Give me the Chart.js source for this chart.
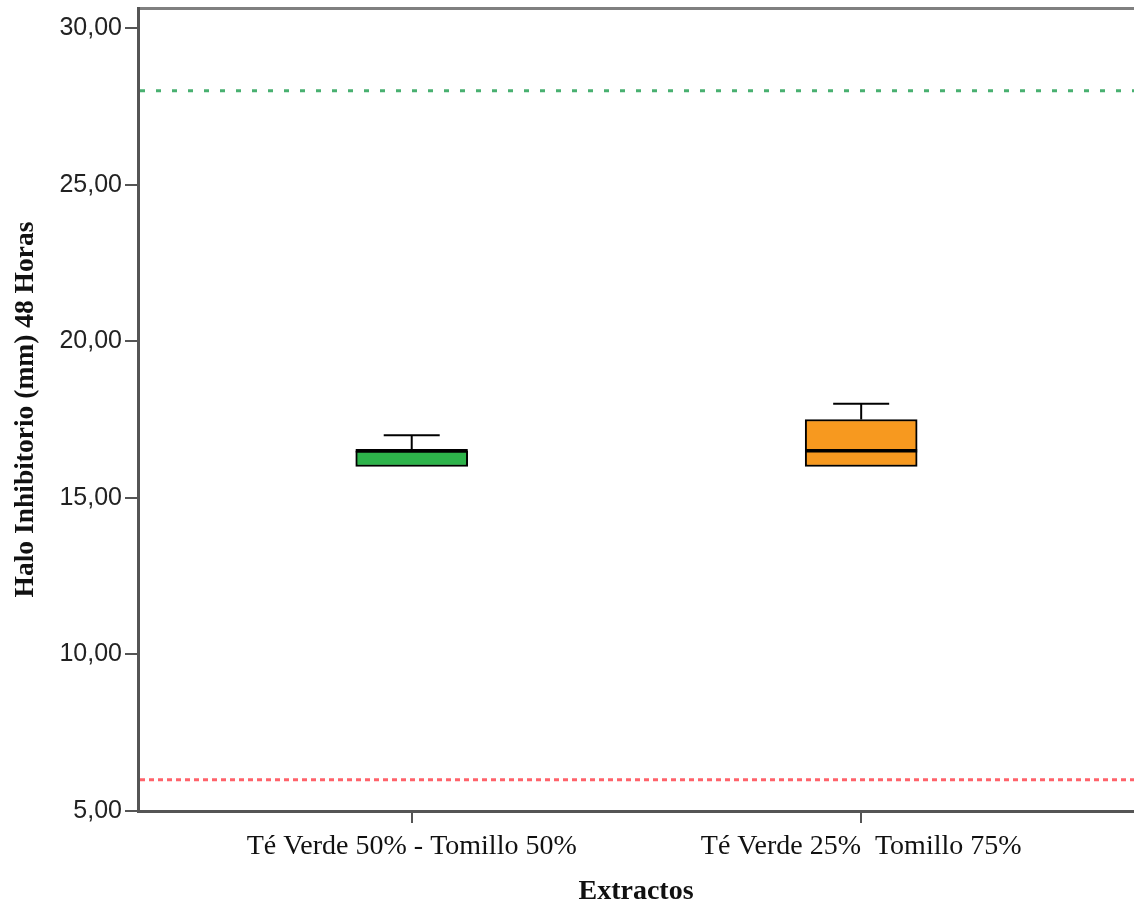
<!DOCTYPE html>
<html>
<head>
<meta charset="utf-8">
<script src="https://cdn.jsdelivr.net/npm/chart.js@4.4.1/dist/chart.umd.min.js"></script>
<style>
  html, body { margin: 0; padding: 0; background: #ffffff; }
  #wrap { width: 1134px; height: 903px; }
</style>
</head>
<body>
<div id="wrap"><canvas id="c" width="1134" height="903"></canvas></div>
<script>
// Box plot of inhibition halo (mm) at 48 h per extract mix
const categories = ['Té Verde 50% - Tomillo 50%', 'Té Verde 25%  Tomillo 75%'];
const positions = [1, 2];
const whiskerLow = [16.0, 16.0];
const q1 = [16.0, 16.0];
const median = [16.5, 16.5];
const q3 = [16.5, 17.5];
const whiskerHigh = [17.0, 18.0];
const boxColors = ['#2db34a', '#f7991f'];

const yTickValues = [5, 10, 15, 20, 25, 30];
const yMin = 5, yMax = 30.64;
const xMin = 0.391, xMax = 2.607;

// Horizontal reference levels
const refValues = [28, 6];
const refColors = ['rgb(72,176,112)', 'rgb(255,98,106)'];
const refDashes = [[5, 11], [5, 4]];

const AXIS = '#555555';

const boxExtras = {
  id: 'boxExtras',
  afterDatasetsDraw(chart) {
    const { ctx, scales: { x, y }, chartArea } = chart;
    ctx.save();
    // reference lines
    refValues.forEach((v, i) => {
      const py = y.getPixelForValue(v);
      ctx.beginPath();
      ctx.setLineDash(refDashes[i]);
      ctx.strokeStyle = refColors[i];
      ctx.lineWidth = 3;
      ctx.moveTo(chartArea.left + 2, py);
      ctx.lineTo(chartArea.right, py);
      ctx.stroke();
    });
    ctx.setLineDash([]);
    // whiskers and medians
    const meta = chart.getDatasetMeta(0);
    positions.forEach((p, i) => {
      const bar = meta.data[i];
      const cx = x.getPixelForValue(p);
      const half = bar.width / 2;
      const capHalf = half / 2;
      ctx.strokeStyle = '#000000';
      ctx.lineWidth = 2;
      const segs = [[q3[i], whiskerHigh[i]], [whiskerLow[i], q1[i]]];
      segs.forEach(([a, b]) => {
        if (b - a <= 0) return;
        const pa = y.getPixelForValue(a), pb = y.getPixelForValue(b);
        ctx.beginPath();
        ctx.moveTo(cx, pa); ctx.lineTo(cx, pb);
        ctx.stroke();
      });
      [whiskerHigh[i], whiskerLow[i]].forEach((w, k) => {
        if ((k === 0 && w <= q3[i]) || (k === 1 && w >= q1[i])) return;
        const pw = y.getPixelForValue(w);
        ctx.beginPath();
        ctx.moveTo(cx - capHalf, pw); ctx.lineTo(cx + capHalf, pw);
        ctx.stroke();
      });
      const pm = y.getPixelForValue(median[i]);
      ctx.lineWidth = 3.5;
      ctx.beginPath();
      ctx.moveTo(cx - half, pm); ctx.lineTo(cx + half, pm);
      ctx.stroke();
    });
    ctx.restore();
  }
};

const serif = "'Liberation Serif', 'Times New Roman', serif";
const sans = "'Liberation Sans', Arial, sans-serif";

new Chart(document.getElementById('c'), {
  type: 'bar',
  data: {
    datasets: [{
      data: positions.map((p, i) => ({ x: p, y: [q1[i], q3[i]] })),
      backgroundColor: boxColors,
      borderColor: '#000000',
      borderWidth: 2,
      borderSkipped: false,
      barThickness: 112
    }]
  },
  options: {
    responsive: false,
    animation: false,
    layout: { padding: { top: 8, right: 0, left: 0, bottom: 0 } },
    plugins: { legend: { display: false }, tooltip: { enabled: false } },
    scales: {
      x: {
        type: 'linear',
        min: xMin, max: xMax,
        offset: false,
        afterBuildTicks(scale) { scale.ticks = positions.map(v => ({ value: v })); },
        afterFit(scale) {
          scale.height = 92;
          scale.paddingLeft = 0; scale.paddingRight = 0;
        },
        ticks: {
          callback: (v) => categories[positions.indexOf(v)] ?? '',
          font: { family: serif, size: 28 },
          color: '#111111',
          padding: 7,
          maxRotation: 0, autoSkip: false
        },
        grid: { offset: false, drawOnChartArea: false, drawTicks: true, tickLength: 12, color: AXIS, lineWidth: 2 },
        border: { display: true, color: AXIS, width: 3 },
        title: {
          display: true, text: 'Extractos',
          font: { family: serif, size: 28, weight: 'bold', lineHeight: 0.8 },
          color: '#111111',
          padding: { top: 0, bottom: 0 }
        }
      },
      x2: {
        type: 'linear', position: 'top',
        min: xMin, max: xMax,
        offset: false,
        afterFit(scale) {
          scale.height = 0;
          scale.paddingLeft = 0; scale.paddingRight = 0;
        },
        ticks: { display: false },
        grid: { display: false, drawTicks: false, offset: false },
        border: { display: true, color: '#808080', width: 3 }
      },
      y: {
        min: yMin, max: yMax,
        afterBuildTicks(scale) { scale.ticks = yTickValues.map(v => ({ value: v })); },
        afterFit(scale) {
          scale.width = 138;
          scale.paddingTop = 0; scale.paddingBottom = 0;
        },
        ticks: {
          callback: (v) => v.toFixed(2).replace('.', ','),
          font: { family: sans, size: 25 },
          color: '#222222',
          padding: 3
        },
        grid: { drawOnChartArea: false, drawTicks: true, tickLength: 13, color: AXIS, lineWidth: 2 },
        border: { display: true, color: AXIS, width: 3 },
        title: {
          display: true, text: 'Halo Inhibitorio (mm) 48 Horas',
          font: { family: serif, size: 27.5, weight: 'bold' },
          color: '#111111',
          padding: { top: 9, bottom: 0 }
        }
      }
    }
  },
  plugins: [boxExtras]
});
</script>
</body>
</html>
